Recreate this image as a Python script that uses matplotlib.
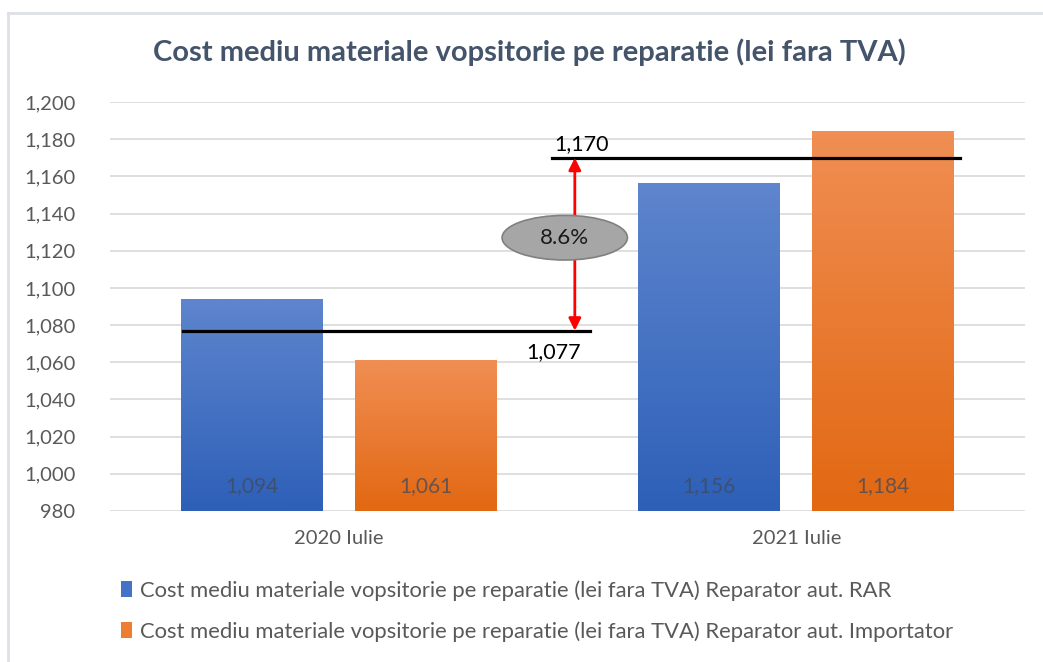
import numpy as np
import matplotlib
matplotlib.use('Agg')
import matplotlib.pyplot as plt
from matplotlib.patches import Ellipse, Patch
from matplotlib.lines import Line2D
from matplotlib.colors import LinearSegmentedColormap

plt.rcParams['font.family'] = ['Lato', 'DejaVu Sans']

categories = ["2020 Iulie", "2021 Iulie"]
rar = [1094, 1156]
importator = [1061, 1184]
series_names = [
    "Cost mediu materiale vopsitorie pe reparatie (lei fara TVA) Reparator aut. RAR",
    "Cost mediu materiale vopsitorie pe reparatie (lei fara TVA) Reparator aut. Importator",
]
avg_2020 = 1077
avg_2021 = 1170
growth_label = "8.6%"

ymin, ymax = 980, 1200

fig = plt.figure(figsize=(10.43, 6.62), dpi=100)
# outer chart frame (only top and left visible)
fig.lines.append(Line2D([8 / 1043, 1], [1 - 13 / 662] * 2, transform=fig.transFigure, color='#DDE1E6', lw=2))
fig.lines.append(Line2D([8 / 1043] * 2, [0, 1 - 13 / 662], transform=fig.transFigure, color='#DDE1E6', lw=2))

ax = fig.add_axes([110 / 1043, 1 - 511 / 662, 915 / 1043, 409 / 662])

x = np.arange(len(categories))
w = 0.31
off = 0.19
blue_cmap = LinearSegmentedColormap.from_list("b", ["#2E60B8", "#5E85CD"])
orange_cmap = LinearSegmentedColormap.from_list("o", ["#E26812", "#F08E53"])
grad = np.linspace(0, 1, 100).reshape(-1, 1)

for vals, sign, cmap in [(rar, -1, blue_cmap), (importator, 1, orange_cmap)]:
    for xi, v in zip(x, vals):
        x0 = xi + sign * off - w / 2
        ax.imshow(grad, extent=[x0, x0 + w, ymin, v], origin='lower', aspect='auto', cmap=cmap, zorder=2)
        ax.text(xi + sign * off, 993.5, f"{v:,}", ha='center', va='center', fontsize=15,
                color='#404a5c', alpha=0.75, zorder=3)

ax.set_xlim(-0.5, 1.5)
ax.set_ylim(ymin, ymax)
ax.set_yticks(np.arange(ymin, ymax + 1, 20))
ax.set_yticklabels([f"{t:,}" for t in np.arange(ymin, ymax + 1, 20)])
ax.set_xticks(x)
ax.set_xticklabels(categories)
ax.tick_params(length=0, labelsize=14.5, colors='#595959')
ax.tick_params(axis='x', pad=14)
ax.tick_params(axis='y', pad=25)
ax.grid(axis='y', color='#D9D9D9', lw=1.2, zorder=0)
ax.set_axisbelow(True)
for s in ax.spines.values():
    s.set_visible(False)

# average lines
ax.plot([-0.341, 0.549], [avg_2020, avg_2020], color='black', lw=2.3, zorder=4)
ax.plot([0.466, 1.359], [avg_2021, avg_2021], color='black', lw=2.3, zorder=4)
ax.text(0.47, 1065.5, f"{avg_2020:,}", ha='center', va='center', fontsize=15.5, color='black', zorder=5)
ax.text(0.53, 1177.5, f"{avg_2021:,}", ha='center', va='center', fontsize=15.5, color='black', zorder=5)

ax.annotate("", xy=(0.516, avg_2021), xytext=(0.516, avg_2020),
            arrowprops=dict(arrowstyle='<|-|>', color='red', lw=2, mutation_scale=18,
                            shrinkA=0, shrinkB=0), zorder=5)
ax.add_patch(Ellipse((0.494, 1127), 0.274, 24, facecolor='#A6A6A6', edgecolor='#808080', lw=1.2, zorder=6))
ax.text(0.494, 1127, growth_label, ha='center', va='center', fontsize=16, color='#1a1a1a', zorder=7)

fig.text(0.508, 1 - 52 / 662, "Cost mediu materiale vopsitorie pe reparatie (lei fara TVA)",
         ha='center', va='center', fontsize=21, fontweight='bold', color='#44546A')

handles = [Patch(facecolor='#4472C4'), Patch(facecolor='#ED7D31')]
fig.legend(handles, series_names, loc='upper left', bbox_to_anchor=(121 / 1043, 1 - 580 / 662),
           frameon=False, fontsize=15.8, labelcolor='#595959', handlelength=0.5, handleheight=0.75,
           handletextpad=0.35, labelspacing=0.93, borderaxespad=0, borderpad=0)

fig.savefig("out.png", dpi=100)
